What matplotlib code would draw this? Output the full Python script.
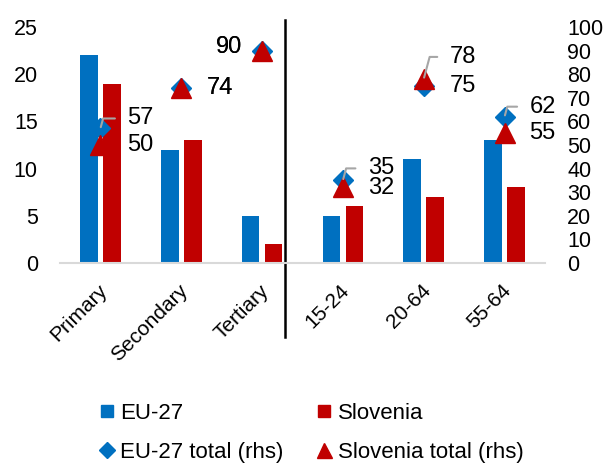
import matplotlib.pyplot as plt
from matplotlib.lines import Line2D
from matplotlib.transforms import ScaledTranslation, blended_transform_factory

plt.rcParams['font.family'] = ['Liberation Sans', 'DejaVu Sans']

# shares (lhs) and totals (rhs)
categories = ['Primary', 'Secondary', 'Tertiary', '15-24', '20-64', '55-64']
eu_share = [22, 12, 5, 5, 11, 13]
si_share = [19, 13, 2, 6, 7, 8]
eu_total = [57, 74, 90, 35, 75, 62]
si_total = [50, 74, 90, 32, 78, 55]

# where each value label sits relative to its marker (dx, dy in px, leader line)
eu_label_pos = [(27, 10, True), (26, 0, False), (-20, 4, False),
                (25, 12, True), (26, 0, False), (25, 10, True)]
si_label_pos = [(27, 0, False), (26, 0, False), (-20, 4, False),
                (25, -1, False), (26, 22, True), (25, 0, False)]

BLUE = '#0070C0'
RED = '#C00000'
GREY = '#A6A6A6'

fig = plt.figure(figsize=(6.11, 4.63), dpi=100)
ax = fig.add_axes([60 / 611, 1 - 263 / 463, 485 / 611, 236 / 463])
ax2 = ax.twinx()

x = list(range(len(categories)))
w = 0.22
ax.bar([i - 0.142 for i in x], eu_share, width=w, color=BLUE, label='EU-27')
ax.bar([i + 0.142 for i in x], si_share, width=w, color=RED, label='Slovenia')

ax2.plot(x, eu_total, linestyle='none', marker='D', markersize=10, color=BLUE, zorder=3)
ax2.plot(x, si_total, linestyle='none', marker='^', markersize=14.4, color=RED, zorder=4)


def add_labels(values, positions):
    for i, v in enumerate(values):
        dx, dy, leader = positions[i]
        kw = dict(xy=(i, v), xytext=(dx, dy), textcoords='offset pixels',
                  ha='left' if dx > 0 else 'right', va='center', fontsize=17, zorder=6)
        if leader:
            kw['arrowprops'] = dict(arrowstyle='-', color=GREY, lw=1.5, shrinkA=7, shrinkB=1,
                                    relpos=(0, 0.5),
                                    connectionstyle='angle,angleA=0,angleB=75,rad=0')
        ax2.annotate(str(v), **kw)


add_labels(eu_total, eu_label_pos)
add_labels(si_total, si_label_pos)

ax.set_xlim(-0.5, 5.5)
ax.set_ylim(0, 25)
ax2.set_ylim(0, 100)
ax.set_yticks(range(0, 26, 5))
ax2.set_yticks(range(0, 101, 10))
ax.tick_params(axis='y', length=0, pad=16, labelsize=15.5)
ax2.tick_params(axis='y', length=0, pad=16, labelsize=15.5)

ax.set_xticks(x)
ax.set_xticklabels(categories, rotation=45, ha='right', rotation_mode='anchor', fontsize=15)
ax.tick_params(axis='x', length=0, pad=13)
for lab in ax.get_xticklabels():
    lab.set_transform(lab.get_transform() + ScaledTranslation(-3 / 100, 0, fig.dpi_scale_trans))

for s in ['top', 'left', 'right']:
    ax.spines[s].set_visible(False)
ax.spines['bottom'].set_color('#D9D9D9')
ax.spines['bottom'].set_linewidth(1.5)
for s in ax2.spines.values():
    s.set_visible(False)

# separator between education levels and age groups
trans = blended_transform_factory(ax.transData, ax.transAxes)
ax.plot([2.284, 2.284], [-0.314, 1.03], transform=trans, color='black', lw=1.8, clip_on=False)

handles = [
    Line2D([], [], linestyle='none', marker='s', markersize=8.6, color=BLUE),
    Line2D([], [], linestyle='none', marker='D', markersize=8, color=BLUE),
    Line2D([], [], linestyle='none', marker='s', markersize=8.6, color=RED),
    Line2D([], [], linestyle='none', marker='^', markersize=10.8, color=RED),
]
labels = ['EU-27', 'EU-27 total (rhs)', 'Slovenia', 'Slovenia total (rhs)']
fig.legend(handles, labels, ncol=2, loc='upper left', bbox_to_anchor=(100 / 611, 1 - 403 / 463),
           frameon=False, fontsize=16, handlelength=0.62, handletextpad=0.3,
           columnspacing=1.5, labelspacing=0.82, borderpad=0, borderaxespad=0)

fig.savefig('out.png', dpi=100)
